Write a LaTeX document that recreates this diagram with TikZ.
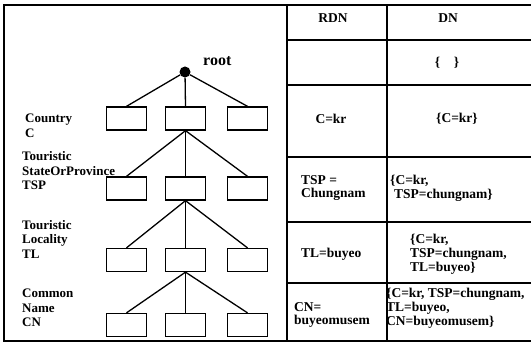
\documentclass[tikz,border=0pt]{standalone}
\usepackage{fontspec}
\setmainfont{Liberation Serif}
\begin{document}
\begin{tikzpicture}[x=1pt,y=-1pt,
  frame/.style={line width=1.3pt},
  leaf/.style={draw, line width=1.3pt, minimum width=40pt, minimum height=23pt, inner sep=0pt},
  edge/.style={line width=1.3pt},
  lbl/.style={font=\fontsize{13}{14.5}\selectfont\bfseries, align=left, inner sep=0pt, anchor=west},
  cell/.style={font=\fontsize{13.5}{13.8}\selectfont\bfseries, align=left, inner sep=0pt},
  rootdot/.style={circle, fill=black, minimum size=11pt, inner sep=0pt}]
\useasboundingbox (0,0) rectangle (531,345);
% frame and table
\draw[frame] (531,5) -- (4,5) -- (4,341) -- (531,341);
\draw[frame] (287,5) -- (287,341);
\draw[frame] (387,5) -- (387,341);
\foreach \yy in {40,85,157,222,283} \draw[frame] (287,\yy) -- (531,\yy);
% tree
\node[rootdot] (root) at (185,72) {};
\node[font=\fontsize{16}{17}\selectfont\bfseries, anchor=west, inner sep=0pt] (roottxt) at (203,61) {root};
\foreach \r/\yy in {a/118.5,b/188.5,c/260,d/325} {
  \node[leaf] (\r1) at (126.5,\yy) {};
  \node[leaf] (\r2) at (185.5,\yy) {};
  \node[leaf] (\r3) at (247.5,\yy) {};
}
\foreach \k in {1,2,3} {
  \draw[edge] (root) -- (a\k.north);
  \draw[edge] (a2.south) -- (b\k.north);
  \draw[edge] (b2.south) -- (c\k.north);
  \draw[edge] (c2.south) -- (d\k.north);
}
% level labels
\node[lbl] (l1) at (25,126) {Country\\C};
\node[lbl] (l2) at (22,171) {Touristic\\StateOrProvince\\TSP};
\node[lbl] (l3) at (22,239) {Touristic\\Locality\\TL};
\node[lbl] (l4) at (22,308) {Common\\Name\\CN};
% table texts
\node[cell] (h1) at (333,18) {RDN};
\node[cell] (h2) at (448,18) {DN};
\node[cell] (r1dn) at (447,63) {\{\quad\}};
\node[cell] (r2rdn) at (331,119) {C=kr};
\node[cell] (r2dn) at (457,119) {\{C=kr\}};
\node[cell, anchor=west] (r3rdn) at (301,188) {TSP =\\Chungnam};
\node[cell, anchor=west] (r3dn) at (390,188) {\{C=kr,\\\hspace*{4pt}TSP=chungnam\}};
\node[cell, anchor=west] (r4rdn) at (301,254) {TL=buyeo};
\node[cell, anchor=west] (r4dn) at (410,254) {\{C=kr,\\TSP=chungnam,\\TL=buyeo\}};
\node[cell, anchor=west] (r5rdn) at (294,315) {CN=\\buyeomusem};
\node[cell, anchor=west] (r5dn) at (386,308) {\{C=kr, TSP=chungnam,\\TL=buyeo,\\CN=buyeomusem\}};
\end{tikzpicture}
\end{document}
